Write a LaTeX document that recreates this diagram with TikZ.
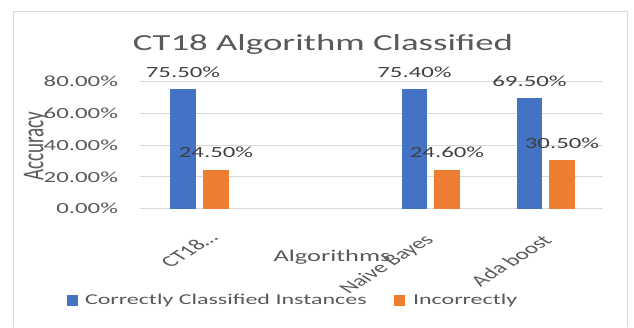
\documentclass[tikz,border=0pt]{standalone}
\usepackage{fontspec}
\setmainfont{Carlito}
\usepackage{tikz}
\usetikzlibrary{positioning}
\definecolor{barblue}{RGB}{68,114,196}
\definecolor{barorange}{RGB}{237,125,49}
\definecolor{txtgray}{RGB}{89,89,89}
\definecolor{lblgray}{RGB}{64,64,64}
\definecolor{gridgray}{RGB}{217,217,217}
\tikzset{
  wide/.style={xscale=1.6, inner sep=0pt, outer sep=0pt},
  charttitle/.style={wide, anchor=base, text=txtgray,
    font=\fontsize{23}{26}\selectfont},
  ticklabel/.style={wide, anchor=east, text=txtgray,
    font=\fontsize{15.5}{18}\selectfont},
  datalabel/.style={wide, text=lblgray,
    font=\fontsize{15.5}{18}\selectfont},
  catlabel/.style={wide, rotate=45, anchor=east, text=txtgray,
    font=\fontsize{15.6}{18}\selectfont},
  axistitle/.style={wide, text=txtgray,
    font=\fontsize{16.5}{19}\selectfont},
  legendkey/.style={rectangle, minimum size=11pt, inner sep=0pt},
  legendtext/.style={wide, text=txtgray,
    font=\fontsize{15}{18}\selectfont},
  gridline/.style={gridgray, line width=1pt}
}

\begin{document}
\begin{tikzpicture}[x=1pt, y=-1pt]
  \useasboundingbox (0,0) rectangle (634,327);

  % Chart frame
  \draw[gridline] (13,327) -- (13,11) -- (627,11) -- (627,327);

  % Title
  \node[charttitle] (title) at (323,50.5) {CT18 Algorithm Classified};

  % Gridlines and value axis
  \foreach \v in {0,20,40,60,80} {
    \pgfmathsetmacro{\yy}{208.5-1.585*\v}
    \draw[gridline] (140,\yy) -- (603,\yy);
    \node[ticklabel] (tick\v) at (118,\yy) {\v.00\%};
  }

  % Bars with their data labels
  \foreach \cx/\v/\col/\nm in {183/75.50/barblue/ctCorrect, 216/24.50/barorange/ctWrong,
      414.5/75.40/barblue/nbCorrect, 447/24.60/barorange/nbWrong,
      529.5/69.50/barblue/adaCorrect, 562/30.50/barorange/adaWrong} {
    \pgfmathsetmacro{\yy}{208.5-1.585*\v}
    \fill[\col] (\cx-12.75,208.5) rectangle (\cx+12.75,\yy);
    \node[datalabel] (\nm) at (\cx,\yy-17) {\v\%};
  }

  % Category labels
  \node[catlabel] (catCT) at (213,235) {CT18…};
  \node[catlabel] (catNB) at (430,238) {Naive Bayes};
  \node[catlabel] (catAda) at (547,238) {Ada boost};

  % Axis titles
  \node[axistitle, font=\fontsize{19}{22}\selectfont, rotate=90] (ytitle) at (36,146) {Accuracy};
  \node[axistitle] (xtitle) at (332,257) {Algorithms};

  % Legend
  \node[legendkey, fill=barblue] (keyCorrect) at (72.5,300) {};
  \node[legendtext, anchor=west] (legCorrect) at (85,300) {Correctly Classified Instances};
  \node[legendkey, fill=barorange] (keyWrong) at (399,300) {};
  \node[legendtext, anchor=west] (legWrong) at (413,300) {Incorrectly};
\end{tikzpicture}
\end{document}
